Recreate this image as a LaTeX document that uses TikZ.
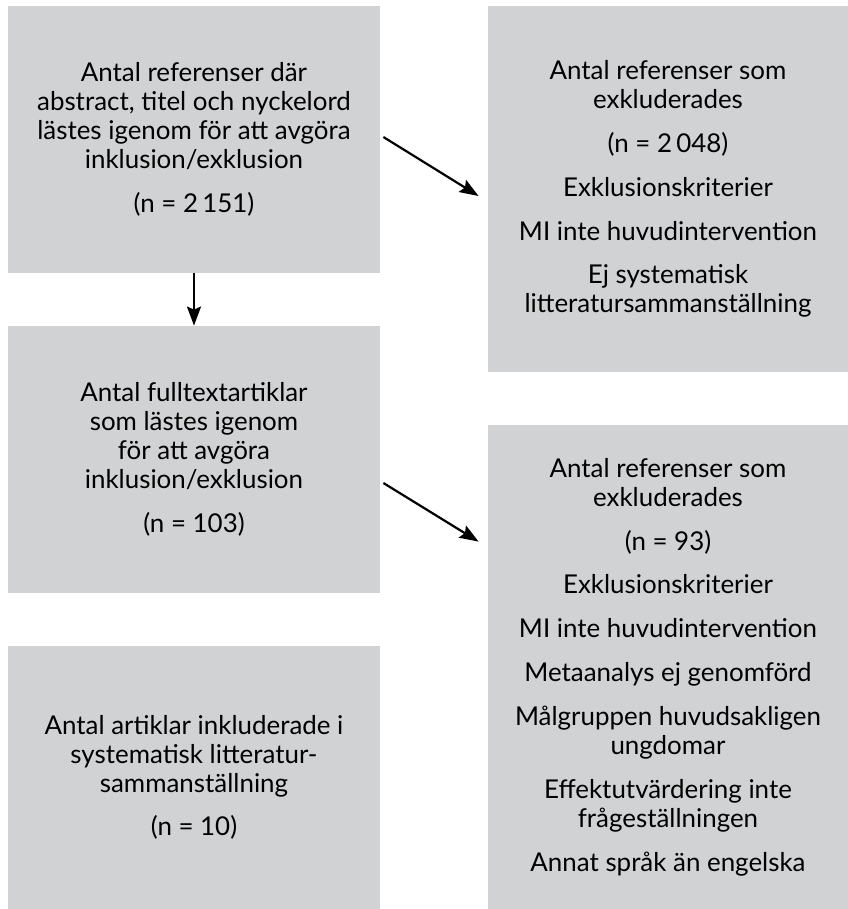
\documentclass[tikz,border=0pt]{standalone}
\usepackage{fontspec}
\setmainfont{Lato}
\usepackage{tikz}
\usetikzlibrary{arrows.meta}
\definecolor{boxgray}{RGB}{209,210,212}
\tikzset{every edge/.style={draw, line width=1.1bp, -{Stealth[length=9.5bp,width=7bp,inset=1.5bp]}}}
\tikzset{box/.style={fill=boxgray, inner sep=0pt, align=center, font=\fontsize{13}{14.5}\selectfont}}
\newcommand{\pgap}{\\[7.5bp]}

\begin{document}
\begin{tikzpicture}[x=0.5bp, y=-0.5bp]       % pixel grid of the reference
    \path[use as bounding box] (0, 0) rectangle (848, 909);

    \node[box, minimum width=186bp, minimum height=133.5bp] at (194, 139.5) (screen) {Antal referenser där\\abstract, titel och nyckelord\\lästes igenom för att avgöra\\inklusion/exklusion\pgap(n = 2\,151)};
    \node[box, minimum width=180bp, minimum height=183bp] at (668, 189) (excl1) {Antal referenser som\\exkluderades\pgap(n = 2\,048)\pgap Exklusionskriterier\pgap MI inte huvudintervention\pgap Ej systematisk\\litteratursammanställning};
    \node[box, minimum width=186bp, minimum height=133.5bp] at (194, 459.5) (full) {Antal fulltextartiklar\\som lästes igenom\\för att avgöra\\inklusion/exklusion\pgap(n = 103)};
    \node[box, minimum width=180bp, minimum height=242bp] at (668, 667) (excl2) {Antal referenser som\\exkluderades\pgap(n = 93)\pgap Exklusionskriterier\pgap MI inte huvudintervention\pgap Metaanalys ej genomförd\pgap Målgruppen huvudsakligen\\ungdomar\pgap Effektutvärdering inte\\frågeställningen\pgap Annat språk än engelska};
    \node[box, minimum width=186bp, minimum height=131.5bp] at (194, 777.5) (incl) {Antal artiklar inkluderade i\\systematisk litteratur-\\sammanställning\pgap(n = 10)};

    \draw (screen) edge (full);
    \draw ([shift={(3,-2.5)}]screen.east) edge ([shift={(-9,7)}]excl1.west);
    \draw ([shift={(3,23.5)}]full.east) edge ([shift={(-9,117)}]excl2.north west);
\end{tikzpicture}
\end{document}
